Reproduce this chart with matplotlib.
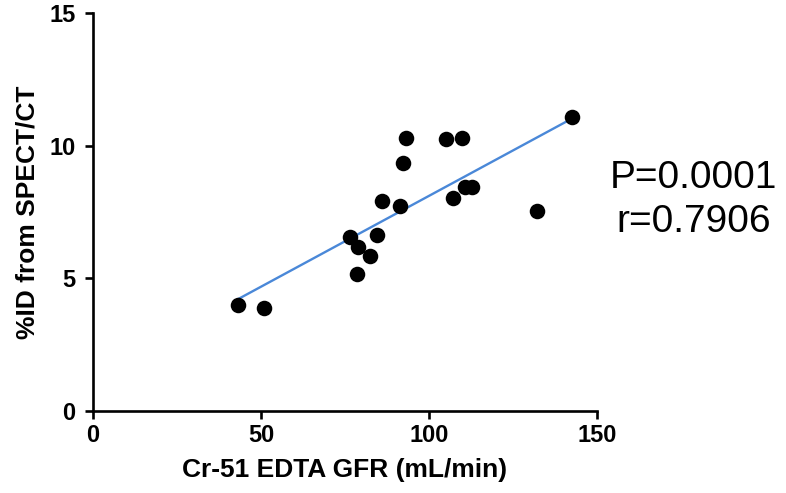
import numpy as np
import matplotlib
matplotlib.use('Agg')
import matplotlib.pyplot as plt

# Cr-51 EDTA GFR (mL/min) vs %ID from SPECT/CT
gfr = [43.1, 51.0, 76.6, 78.9, 78.7, 82.5, 84.6, 85.9, 91.4, 92.2, 93.3,
       105.1, 109.9, 107.1, 110.6, 112.7, 132.1, 142.6]
pct_id = [3.98, 3.90, 6.54, 6.18, 5.18, 5.84, 6.63, 7.90, 7.71, 9.34, 10.29,
          10.25, 10.30, 8.04, 8.46, 8.46, 7.53, 11.08]

x_ticks = [0, 50, 100, 150]
y_ticks = [0, 5, 10, 15]
stats_text = 'P=0.0001\nr=0.7906'

plt.rcParams['font.family'] = ['Liberation Sans', 'DejaVu Sans']

fig = plt.figure(figsize=(7.86, 4.93), dpi=100)
ax = fig.add_axes([0.1183, 0.1663, 0.6412, 0.8073])

ax.scatter(gfr, pct_id, s=125, color='black', zorder=3, linewidths=0)

# linear fit across the data range
slope, icept = np.polyfit(gfr, pct_id, 1)
xs = np.array([min(gfr), max(gfr)])
ax.plot(xs, slope * xs + icept, color='#4a88d8', lw=1.7, zorder=2)

ax.set_xlim(0, 150)
ax.set_ylim(0, 15)
ax.set_xticks(x_ticks)
ax.set_yticks(y_ticks)

for side in ['top', 'right']:
    ax.spines[side].set_visible(False)
for side in ['left', 'bottom']:
    ax.spines[side].set_linewidth(1.9)
    ax.spines[side].set_color('black')
ax.tick_params(width=1.9, length=5.5, direction='out', labelsize=17)
ax.tick_params(axis='x', pad=4)
ax.tick_params(axis='y', pad=7)
for lab in ax.get_xticklabels() + ax.get_yticklabels():
    lab.set_fontweight('bold')

ax.set_xlabel('Cr-51 EDTA GFR (mL/min)', fontsize=19, fontweight='bold', labelpad=8)
ax.set_ylabel('%ID from SPECT/CT', fontsize=19, fontweight='bold', labelpad=7)

fig.text(0.882, 0.594, stats_text, fontsize=28, ha='center', va='center',
         linespacing=1.28)

fig.savefig('out.png', dpi=100)
